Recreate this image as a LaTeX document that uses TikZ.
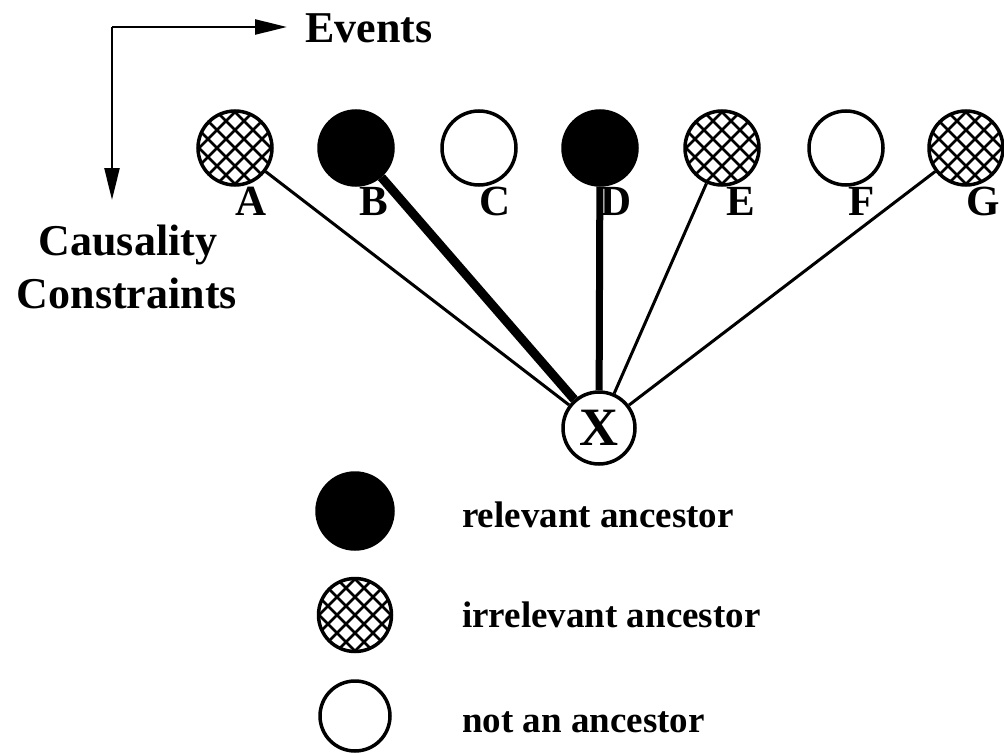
\documentclass[tikz,border=0pt]{standalone}
\usepackage{fontspec}
\setmainfont{Liberation Serif}
\usetikzlibrary{arrows.meta}
\tikzset{
  ev/.style={circle, draw, line width=3.5bp, minimum size=74bp, inner sep=0pt, fill=white},
  relevant/.style={ev, fill=black},
  hatchpic/.style={path picture={
      \foreach \i in {-7,...,7}{
        \draw[line width=2.6bp] ([xshift=\i*18bp]path picture bounding box.center) ++(-70bp,-70bp) -- ++(140bp,140bp);
        \draw[line width=2.6bp] ([xshift=\i*18bp]path picture bounding box.center) ++(-70bp,70bp) -- ++(140bp,-140bp);
      }}},
  irrelevant/.style={ev, hatchpic},
  notanc/.style={ev},
  lab/.style={inner sep=0pt, font=\fontsize{43bp}{48bp}\selectfont\bfseries},
  bigtxt/.style={inner sep=0pt, font=\fontsize{44bp}{52bp}\selectfont\bfseries},
  legtxt/.style={inner sep=0pt, anchor=base west, font=\fontsize{37bp}{44bp}\selectfont\bfseries},
  thinedge/.style={line width=3bp},
  thickedge/.style={line width=9bp},
  axis/.style={line width=2.4bp, -{Triangle[length=32bp,width=15bp]}}
}
\begin{document}
\begin{tikzpicture}[x=1bp, y=-1bp]
\useasboundingbox (0,0) rectangle (1004,753);
% axes
\coordinate (corner) at (112,27);
\coordinate (evtip) at (287,27);
\coordinate (cctip) at (112,200);
\draw[axis] (corner) -- (evtip);
\draw[axis] (corner) -- (cctip);
\node[bigtxt, anchor=base west] (events) at (305,43) {Events};
\node[bigtxt, anchor=base] (caus) at (128,255) {Causality};
\node[bigtxt, anchor=base] (constr) at (127,308) {Constraints};
% events
\node[irrelevant] (A) at (235,148) {};
\node[relevant]   (B) at (356,148) {};
\node[notanc]     (C) at (479,148) {};
\node[relevant]   (D) at (600,148) {};
\node[irrelevant] (E) at (722,148) {};
\node[notanc]     (F) at (846,148) {};
\node[irrelevant] (G) at (966,148) {};
\node[lab] (lA) at (251,201) {A};
\node[lab] (lB) at (374,201) {B};
\node[lab] (lC) at (495,201) {C};
\node[lab] (lD) at (616,201) {D};
\node[lab] (lE) at (741,201) {E};
\node[lab] (lF) at (862,201) {F};
\node[lab] (lG) at (983,201) {G};
% X
\node[ev, minimum size=72bp, font=\fontsize{54bp}{58bp}\selectfont\bfseries] (X) at (599,428) {X};
% edges
\draw[thinedge] (A) -- (X);
\draw[thickedge] (B) -- (X);
\draw[line width=7bp] (D) -- (X);
\draw[thinedge] (E) -- (X);
\draw[thinedge] (G) -- (X);
% legend
\node[relevant, minimum size=76bp] (lrel) at (355,511) {};
\node[irrelevant, minimum size=73bp] (lirr) at (355,615) {};
\node[notanc, minimum size=70bp] (lnot) at (355,716) {};
\node[legtxt] (trel) at (462,527) {relevant ancestor};
\node[legtxt] (tirr) at (462,627) {irrelevant ancestor};
\node[legtxt] (tnot) at (462,732) {not an ancestor};
\end{tikzpicture}
\end{document}
